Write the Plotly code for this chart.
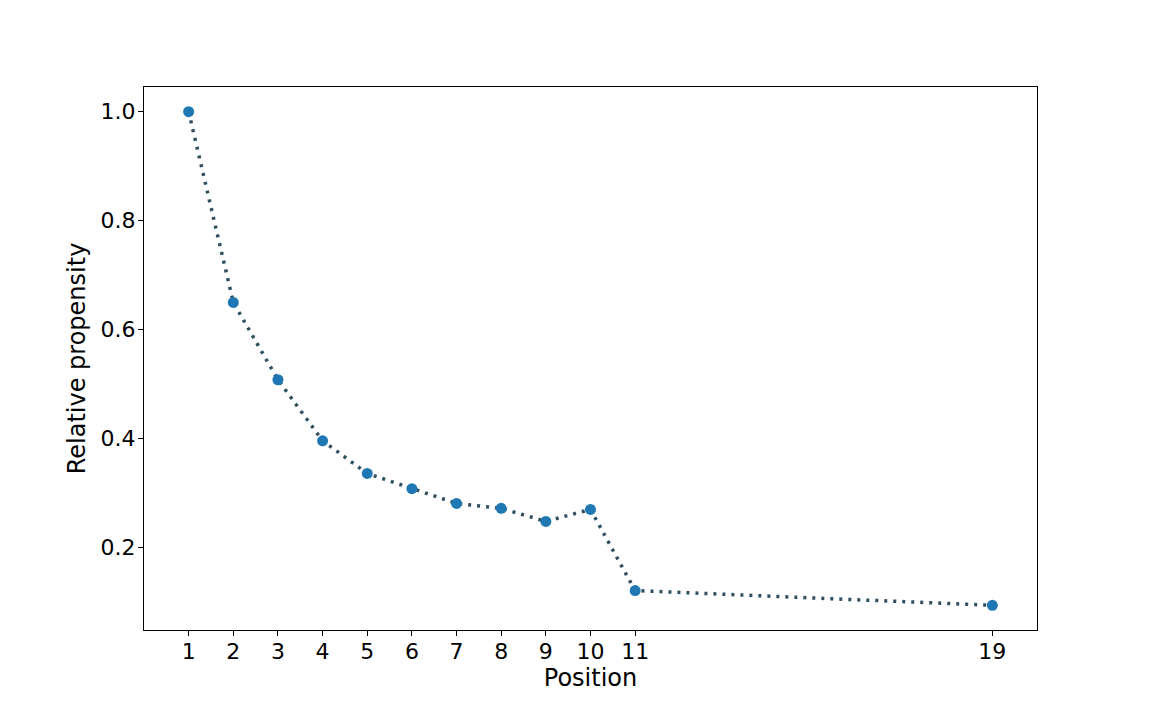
import plotly.graph_objects as go

# Position vs relative propensity
positions = [1, 2, 3, 4, 5, 6, 7, 8, 9, 10, 11, 19]
propensity = [1.0, 0.650, 0.508, 0.396, 0.336, 0.308, 0.281, 0.272, 0.248, 0.270, 0.121, 0.094]
x_ticks = [1, 2, 3, 4, 5, 6, 7, 8, 9, 10, 11, 19]
y_ticks = [0.2, 0.4, 0.6, 0.8, 1.0]

fig = go.Figure()

# dotted connecting line
fig.add_trace(
    go.Scatter(
        x=positions,
        y=propensity,
        mode="lines",
        line={"color": "#2f5060", "width": 3.5, "dash": "3px,6px"},
        hoverinfo="skip",
        showlegend=False,
    )
)

# markers on top
fig.add_trace(
    go.Scatter(
        x=positions,
        y=propensity,
        mode="markers",
        marker={"color": "#1f77b4", "size": 11},
        showlegend=False,
    )
)

axis_style = dict(
    showline=True,
    linecolor="black",
    linewidth=1,
    mirror=True,
    showgrid=False,
    zeroline=False,
    ticks="outside",
    ticklen=5,
    tickwidth=1,
    tickcolor="black",
    tickfont={"size": 22, "color": "black"},
)

fig.update_xaxes(
    range=[0, 20],
    tickvals=x_ticks,
    ticklabelstandoff=-3,
    title={"text": "Position", "font": {"size": 24, "color": "black"}, "standoff": 0},
    **axis_style,
)
fig.update_yaxes(
    range=[0.0487, 1.0453],
    tickvals=y_ticks,
    tickformat=".1f",
    ticklabelstandoff=-2,
    title={"text": "Relative propensity", "font": {"size": 24, "color": "black"}, "standoff": 8},
    **axis_style,
)

# page body adds 8px offset, so shift margins accordingly
fig.update_layout(
    width=1152,
    height=720,
    margin={"l": 136, "r": 123, "t": 79, "b": 98},
    paper_bgcolor="white",
    plot_bgcolor="white",
    font={"family": "DejaVu Sans", "color": "black"},
)

fig.write_html("out.html")
